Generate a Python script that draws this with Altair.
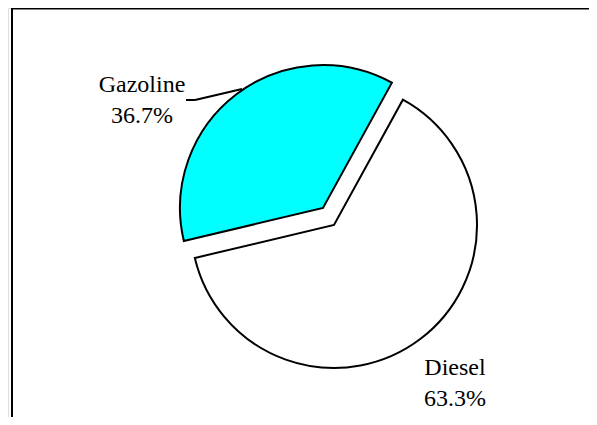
import math
import altair as alt
import pandas as pd

categories = ["Diesel", "Gazoline"]
shares = [63.3, 36.7]
labels = ["Diesel\n63.3%", "Gazoline\n36.7%"]
colors = ["#FFFFFF", "#00FFFF"]

df = pd.DataFrame({"category": categories, "share": shares, "label": labels,
                   "order": list(range(len(categories)))})

W, H = 581, 409
R = 143
start = math.radians(28.8)

theta = alt.Theta("share:Q", stack=True,
                  scale=alt.Scale(domain=[0, 100], range=[start, start + 2 * math.pi]))
color = alt.Color("category:N", legend=None,
                  scale=alt.Scale(domain=categories, range=colors))


def slice_layer(cat, cx, cy):
    return alt.Chart(df).mark_arc(
        x=cx, y=cy, outerRadius=R, stroke="black", strokeWidth=2
    ).encode(
        theta=theta,
        order=alt.Order("order:Q"),
        fill=color,
        opacity=alt.condition(alt.datum.category == cat, alt.value(1), alt.value(0)),
    )


diesel = slice_layer("Diesel", 326, 217)
gaz = slice_layer("Gazoline", 315, 200)


def label_layer(cat, x, y):
    return alt.Chart(df).transform_filter(alt.datum.category == cat).mark_text(
        x=x, y=y, align="center", baseline="alphabetic", lineBreak="\n",
        lineHeight=31, font="Liberation Serif", fontSize=24, color="black"
    ).encode(text="label:N")


lab_g = label_layer("Gazoline", 134, 84)
lab_d = label_layer("Diesel", 447, 367)

one = alt.Data(values=[{"k": 1}])
leader1 = alt.Chart(one).mark_rule(color="black", strokeWidth=2).encode(
    x=alt.value(178), x2=alt.value(187), y=alt.value(92), y2=alt.value(92))
leader2 = alt.Chart(one).mark_rule(color="black", strokeWidth=2).encode(
    x=alt.value(187), x2=alt.value(234), y=alt.value(92), y2=alt.value(81))

border_top = alt.Chart(one).mark_rule(color="black", strokeWidth=2.5).encode(
    x=alt.value(3), x2=alt.value(W), y=alt.value(0.3), y2=alt.value(0.3))
border_left = alt.Chart(one).mark_rule(color="black", strokeWidth=2).encode(
    x=alt.value(4), x2=alt.value(4), y=alt.value(0), y2=alt.value(H))

chart = alt.layer(diesel, gaz, leader1, leader2, lab_g, lab_d, border_top, border_left).properties(
    width=W, height=H, autosize=alt.AutoSizeParams(type="none"), padding=0
).configure_view(strokeWidth=0, stroke="transparent").configure(background="white")

chart.save("out.html", embed_options={"renderer": "svg", "actions": False})
